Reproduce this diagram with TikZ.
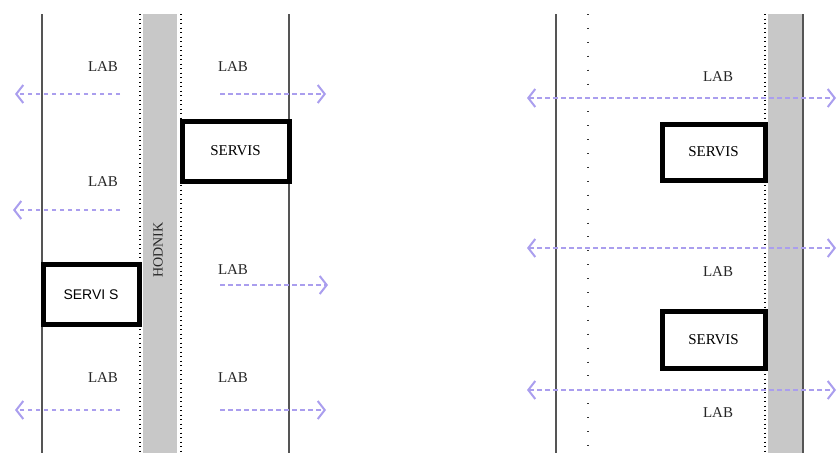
\documentclass[tikz,border=0pt]{standalone}
\usepackage{fontspec}
\setmainfont{Liberation Serif}
\newfontfamily\arialfont{Liberation Sans}
\usetikzlibrary{arrows.meta}
\definecolor{arr}{RGB}{170,158,238}
\definecolor{wallc}{RGB}{85,85,85}
\definecolor{corr}{RGB}{200,200,200}
\tikzset{
  wall/.style={draw=wallc,line width=1.4pt},
  dotline/.style={draw=black,line width=1.3pt,dash pattern=on 0.9pt off 3.6pt},
  sparsedot/.style={draw=black!80,line width=1.3pt,dash pattern=on 0.9pt off 13pt},
  labtxt/.style={font=\fontsize{15}{17}\selectfont,text=black!85},
  servbox/.style={draw=black,line width=5pt,fill=white,font=\fontsize{15}{17}\selectfont,inner sep=0pt},
  flow/.style={draw=arr,line width=1.6pt,dash pattern=on 4.5pt off 3.5pt},
  tipr/.style={arrows={-Straight Barb[length=7pt,width=18pt,line width=2pt]}},
  tipb/.style={arrows={Straight Barb[length=7pt,width=18pt,line width=2pt]-Straight Barb[length=7pt,width=18pt,line width=2pt]}},
}
\begin{document}
\begin{tikzpicture}[x=1pt,y=-1pt]
\useasboundingbox (0,0) rectangle (839,453);
% ---------- left plan ----------
\fill[corr] (143,14) rectangle (177,453);
\draw[wall] (42,14) -- (42,453);
\draw[wall] (289,14) -- (289,453);
\draw[dotline] (140,14) -- (140,453);
\draw[dotline] (181,14) -- (181,453);
\node[rotate=90,labtxt,font=\fontsize{14}{16}\selectfont] (hod) at (158,250) {HODNIK};

\node[labtxt] (l1) at (103,67) {LAB};
\node[labtxt] (l2) at (233,67) {LAB};
\node[labtxt] (l3) at (103,182) {LAB};
\node[labtxt] (l4) at (233,270) {LAB};
\node[labtxt] (l5) at (103,378) {LAB};
\node[labtxt] (l6) at (233,378) {LAB};

\node[servbox,minimum width=107pt,minimum height=60pt] (s1) at (235.5,151) {SERVIS};
\node[servbox,minimum width=96pt,minimum height=60pt,font=\arialfont\fontsize{14}{16}\selectfont] (s2) at (91,294.5) {SERVI S};

\coordinate (a1s) at (120,94); \coordinate (a1e) at (15,94);
\coordinate (a2s) at (220,94); \coordinate (a2e) at (326,94);
\coordinate (a3s) at (120,210); \coordinate (a3e) at (13,210);
\coordinate (a4s) at (220,285); \coordinate (a4e) at (328,285);
\coordinate (a5s) at (120,410); \coordinate (a5e) at (15,410);
\coordinate (a6s) at (220,410); \coordinate (a6e) at (326,410);
\draw[flow,tipr] (a1s) -- (a1e);
\draw[flow,tipr] (a2s) -- (a2e);
\draw[flow,tipr] (a3s) -- (a3e);
\draw[flow,tipr] (a4s) -- (a4e);
\draw[flow,tipr] (a5s) -- (a5e);
\draw[flow,tipr] (a6s) -- (a6e);

% ---------- right plan ----------
\fill[corr] (768,14) rectangle (803,453);
\draw[wall] (556,14) -- (556,453);
\draw[wall] (803,14) -- (803,453);
\draw[sparsedot] (588,14) -- (588,453);
\draw[dotline] (765,14) -- (765,453);

\node[labtxt] (r1) at (718,77) {LAB};
\node[labtxt] (r2) at (718,272) {LAB};
\node[labtxt] (r3) at (718,413) {LAB};

\coordinate (b1s) at (527,98); \coordinate (b1e) at (836,98);
\coordinate (b2s) at (527,248); \coordinate (b2e) at (836,248);
\coordinate (b3s) at (527,390); \coordinate (b3e) at (836,390);
\draw[flow,tipb] (b1s) -- (b1e);
\draw[flow,tipb] (b2s) -- (b2e);
\draw[flow,tipb] (b3s) -- (b3e);

\node[servbox,minimum width=103pt,minimum height=56pt] (s3) at (713.5,152) {SERVIS};
\node[servbox,minimum width=103pt,minimum height=57pt] (s4) at (713.5,339.5) {SERVIS};
\end{tikzpicture}
\end{document}
